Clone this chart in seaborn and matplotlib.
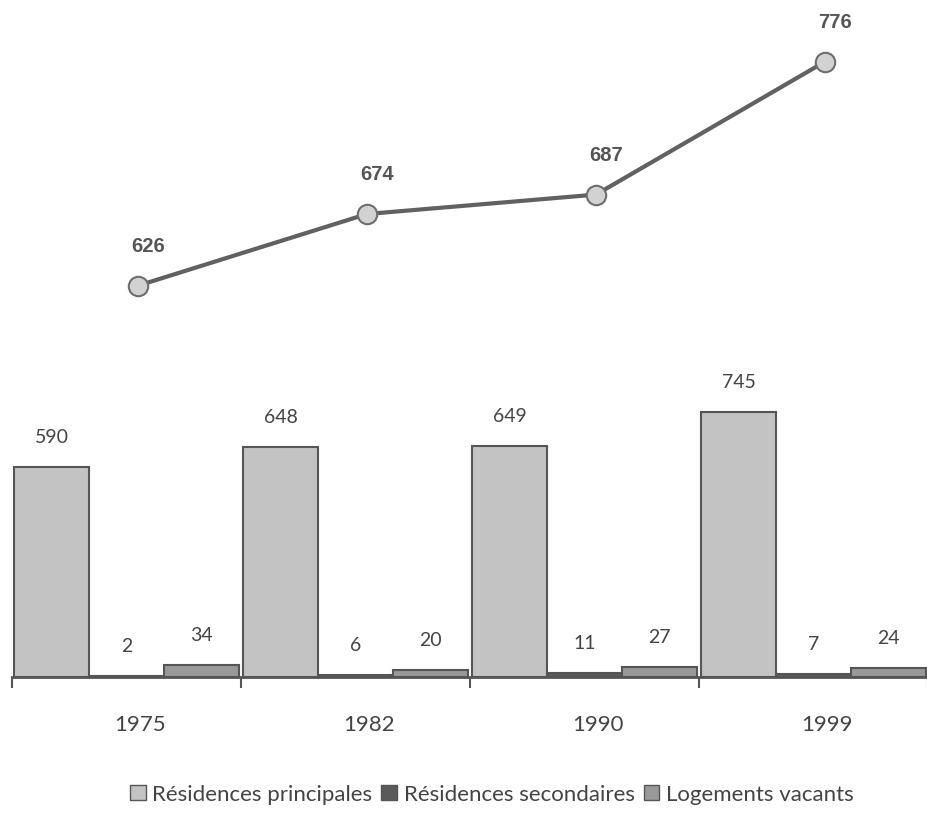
import numpy as np
import pandas as pd
import matplotlib
matplotlib.use("Agg")
import matplotlib.pyplot as plt
import seaborn as sns
from matplotlib.patches import Patch

sns.set_style("white")
plt.rcParams["font.family"] = ["Lato", "DejaVu Sans"]

# data
years = ["1975", "1982", "1990", "1999"]
total = [626, 674, 687, 776]
principales = [590, 648, 649, 745]
secondaires = [2, 6, 11, 7]
vacants = [34, 20, 27, 24]
series = ["Résidences principales", "Résidences secondaires", "Logements vacants"]
colors = ["#c3c3c3", "#5a5a5a", "#999999"]

df = pd.DataFrame({
    "annee": years * 3,
    "type": [s for s in series for _ in years],
    "valeur": principales + secondaires + vacants,
})

fig = plt.figure(figsize=(9.28, 8.2), dpi=100)

# ── line chart on top ──
ax_top = fig.add_axes([0.013, 0.5976, 0.987, 0.4024])
xs = np.arange(len(years)) + 0.05
sns.lineplot(x=xs, y=total, ax=ax_top, color="#616161", linewidth=3,
             marker="o", markersize=14, markerfacecolor="#d2d2d2",
             markeredgecolor="#6e6e6e", markeredgewidth=1.5)
for x, v in zip(xs, total):
    ax_top.annotate(str(v), (x, v), xytext=(7, 29), textcoords="offset points",
                    ha="center", va="center", fontsize=14.5, fontweight="bold",
                    color="#555555", family=["Liberation Sans", "DejaVu Sans"])
ax_top.set_xlim(-0.5, 3.5)
ax_top.set_ylim(597, 818)
ax_top.axis("off")

# ── grouped bars ──
ax = fig.add_axes([0.013, 0.1732, 0.987, 0.3634])
sns.barplot(data=df, x="annee", y="valeur", hue="type", palette=colors,
            width=0.98, ax=ax, edgecolor="#555555", linewidth=1.5, legend=False)
for c in ax.containers:
    ax.bar_label(c, padding=16, fontsize=14, color="#444444")
ax.set_xlim(-0.5, 3.5)
ax.set_ylim(0, 839)
ax.set_yticks([])
ax.set_ylabel("")
ax.set_xlabel("")
for s in ["top", "right", "left"]:
    ax.spines[s].set_visible(False)
ax.spines["bottom"].set_color("#555555")
ax.spines["bottom"].set_linewidth(2)

ax.set_xticks(np.arange(-0.5, 4.0, 1.0))
ax.set_xticklabels([])
ax.tick_params(axis="x", which="major", direction="out", length=8, width=1.5,
               color="#555555", bottom=True)
ax.set_xticks(np.arange(len(years)) + 0.06, minor=True)
ax.set_xticklabels(years, minor=True)
ax.tick_params(axis="x", which="minor", length=0, pad=27, labelsize=16,
               labelcolor="#444444")

handles = [Patch(facecolor=c, edgecolor="#555555", linewidth=1) for c in colors]
fig.legend(handles, series, loc="center", bbox_to_anchor=(0.53, 0.03), ncol=3,
           frameon=False, fontsize=16, handlelength=0.7, handleheight=0.7,
           handletextpad=0.3, columnspacing=0.4, labelcolor="#444444")

fig.savefig("out.png", dpi=100)
